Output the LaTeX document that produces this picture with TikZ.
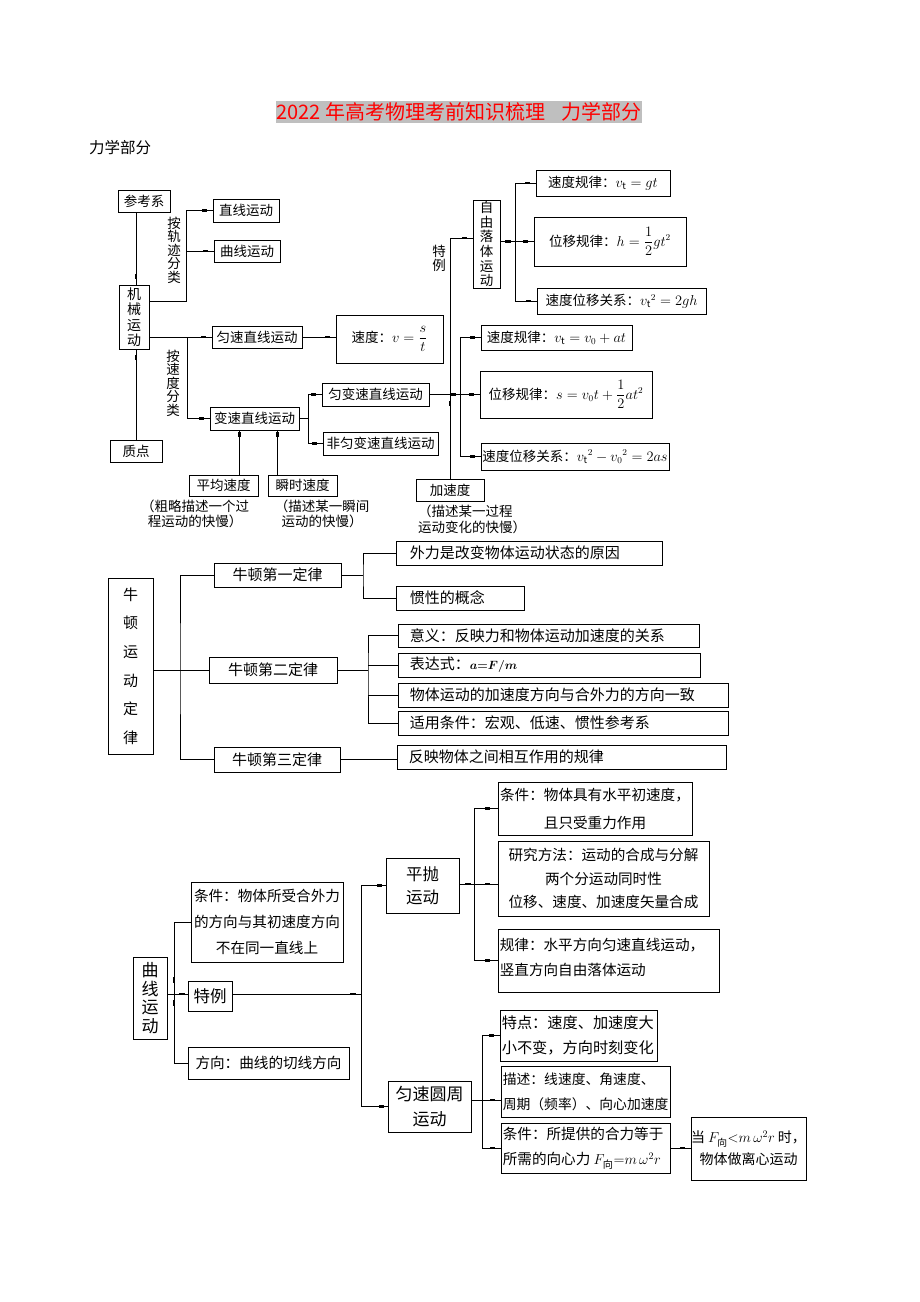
\documentclass[tikz,border=0pt]{standalone}
\usepackage{fontspec}
\usepackage{amsmath}
\setmainfont{Noto Sans CJK SC}
\usetikzlibrary{decorations.markings}
\newcommand{\fsz}[2]{\fontsize{#1}{#2}\selectfont}
\newcommand{\mkbox}[7][]{\node[box,#1,minimum width={(#5-#3)*1pt},minimum height={(#6-#4)*1pt}] (#2) at ({(#3+#5)/2},{(#4+#6)/2}) {#7};}
\begin{document}
\begin{tikzpicture}[x=1pt,y=-1pt,
 box/.style={draw=black,line width=0.75pt,inner sep=0pt,align=center},
 ln/.style={draw=black,line width=0.75pt},
 mk/.style={postaction={decorate,decoration={markings,mark=at position #1 with {\fill[black] (-2.6pt,-1.4pt) rectangle (2.6pt,1.4pt);}}}},
 mk/.default=-8pt,
 ftop/.style={font=\fsz{13.5}{16}},
 fmid/.style={font=\fsz{15}{18}},
 fbot/.style={font=\fsz{14.6}{18}},
 lbl/.style={inner sep=0pt,align=center},
 ltxt/.style={inner sep=0pt,align=left,anchor=west},
]
\fill[white] (0,0) rectangle (920,1302);
\useasboundingbox (0,0) rectangle (920,1302);

% title
\node[fill=black!25,text=red,inner xsep=1pt,inner ysep=2pt,font=\fsz{20}{22}] (title) at (459,112) {2022 年高考物理考前知识梳理\hspace{0.8em}力学部分};
\node[anchor=west,inner sep=0pt,font=\fsz{15.5}{18}] (sub) at (89,148) {力学部分};

% ---------- top section ----------
\mkbox[ftop]{ckx}{118}{190}{170}{212}{参考系}
\mkbox[ftop]{zx}{213}{199}{279}{222}{直线运动}
\mkbox[ftop]{qx}{214}{240}{280}{262}{曲线运动}
\mkbox[font=\fsz{14}{15.5}]{jx}{119}{285}{149}{349}{机\\械\\运\\动}
\mkbox[ftop]{yszx}{212}{326}{302}{348}{匀速直线运动}
\mkbox[ftop]{sdv}{336}{315}{443}{363}{速度：$v=\dfrac{s}{t}$}
\mkbox[ftop]{bszx}{210}{407}{299}{430}{变速直线运动}
\mkbox[ftop]{ybs}{322}{383}{429}{406}{匀变速直线运动}
\mkbox[ftop]{fybs}{323}{432}{438}{455}{非匀变速直线运动}
\mkbox[ftop]{zd}{110}{440}{162}{462}{质点}
\mkbox[ftop]{pjsd}{189}{475}{258}{496}{平均速度}
\mkbox[ftop]{ssd}{268}{475}{337}{496}{瞬时速度}
\mkbox[ftop]{jsd}{416}{479}{484}{501}{加速度}
\mkbox[font=\fsz{13.5}{14.7}]{zyl}{473}{200}{500}{288}{自\\由\\落\\体\\运\\动}
\mkbox[ftop]{g1}{536}{170}{670}{196}{速度规律：$v_{\mathrm t}=gt$}
\mkbox[ftop]{g2}{534}{217}{686}{266}{位移规律：$h=\dfrac{1}{2}gt^2$}
\mkbox[ftop]{g3}{537}{288}{706}{314}{速度位移关系：${v_{\mathrm t}}^2=2gh$}
\mkbox[ftop]{a1}{481}{325}{632}{350}{速度规律：$v_{\mathrm t}=v_0+at$}
\mkbox[ftop]{a2}{480}{371}{652}{418}{位移规律：$s=v_0t+\dfrac{1}{2}at^2$}
\mkbox[ftop]{a3}{481}{443}{669}{470}{速度位移关系：${v_{\mathrm t}}^2-{v_0}^2=2as$}

\node[lbl,font=\fsz{13.5}{13.5}] (lb1) at (174,250) {按\\轨\\迹\\分\\类};
\node[lbl,font=\fsz{13.5}{13.5}] (lb2) at (173,383) {按\\速\\度\\分\\类};
\node[lbl,font=\fsz{13.5}{14}] (lb3) at (439,258) {特\\例};
\node[lbl,font=\fsz{13.5}{15.5}] (cap1) at (195,514) {（粗略描述一个过\\程运动的快慢）};
\node[lbl,font=\fsz{13.5}{15.5}] (cap2) at (322,514) {（描述某一瞬间\\运动的快慢）};
\node[lbl,align=left,anchor=north west,font=\fsz{13.5}{15.5}] (cap3) at (418,505) {（描述某一过程\\运动变化的快慢）};

\draw[ln,mk] ([xshift=2pt]jx.north |- ckx.south) -- ([xshift=2pt]jx.north);
\draw[ln,mk] (zd.north) -- (zd.north |- jx.south);
\coordinate (j1) at (186,301);
\draw[ln,mk] (jx.east |- j1) -- (j1) |- (zx.west);
\draw[ln,mk] (j1 |- qx.west) -- (qx.west);
\coordinate (j2) at (187,337);
\draw[ln,mk] (jx.east |- j2) -- (yszx.west);
\draw[ln,mk] (j2) |- (bszx.west);
\draw[ln,mk] (yszx.east) -- (yszx.east -| sdv.west);
\coordinate (j3) at (308,418.5);
\draw[ln] (bszx.east) -- (j3);
\draw[ln,mk] (j3) |- (ybs.west);
\draw[ln,mk] (j3) |- (fybs.west);
\draw[ln,mk=-4pt] ([xshift=16pt]pjsd.north) -- ([xshift=16pt]pjsd.north |- bszx.south);
\draw[ln,mk=-4pt] ([xshift=-25pt]ssd.north) -- ([xshift=-25pt]ssd.north |- bszx.south);
\coordinate (j4) at (460,394.5);
\draw[ln,mk=-7pt] (ybs.east) -- (j4);
\draw[ln,mk] (j4) -- (a2.west);
\draw[ln,mk] (j4) |- (a1.west);
\draw[ln,mk] (j4) |- (a3.west);
\path (jsd.north |- ybs.east) coordinate (j5);
\draw[ln,mk=-9pt] (jsd.north) -- (j5);
\draw[ln,mk] (j5) |- ([yshift=6pt]zyl.west);
\coordinate (j6) at (515,241.5);
\draw[ln,mk=-7pt] (zyl.east |- j6) -- (j6);
\draw[ln,mk] (j6) -- (g2.west);
\draw[ln,mk] (j6) |- (g1.west);
\draw[ln,mk] (j6) |- (g3.west);

% ---------- middle section ----------
\mkbox[font=\fsz{15}{28.6}]{nd}{108}{578}{153}{754}{牛\\顿\\运\\动\\定\\律}
\mkbox[fmid]{law1}{214}{563}{341}{587}{牛顿第一定律}
\mkbox[fmid]{law2}{209}{657}{337}{683}{牛顿第二定律}
\mkbox[fmid]{law3}{214}{747}{340}{772}{牛顿第三定律}
\mkbox{w1}{396}{541}{662}{565}{}
\mkbox{w2}{396}{586}{524}{610}{}
\mkbox{e1}{398}{624}{699}{647}{}
\mkbox{e2}{398}{653}{700}{677}{}
\mkbox{e3}{398}{683}{728}{707}{}
\mkbox{e4}{398}{711}{728}{735}{}
\mkbox{w3}{397}{745}{726}{769}{}
\node[ltxt,fmid] (w1t) at ([xshift=14pt]w1.west) {外力是改变物体运动状态的原因};
\node[ltxt,fmid] (w2t) at ([xshift=14pt]w2.west) {惯性的概念};
\node[ltxt,fmid] (e1t) at ([xshift=12pt]e1.west) {意义：反映力和物体运动加速度的关系};
\node[ltxt,fmid] (e2t) at ([xshift=12pt]e2.west) {表达式：{\fsz{12}{14}$\boldsymbol{a{=}F/m}$}};
\node[ltxt,fmid] (e3t) at ([xshift=12pt]e3.west) {物体运动的加速度方向与合外力的方向一致};
\node[ltxt,fmid] (e4t) at ([xshift=12pt]e4.west) {适用条件：宏观、低速、惯性参考系};
\node[ltxt,fmid] (w3t) at ([xshift=12pt]w3.west) {反映物体之间相互作用的规律};

\coordinate (k1) at (180,670);
\draw[ln] (nd.east |- k1) -- (law2.west);
\draw[ln] (law1.west) -| (k1) |- (law3.west);
\coordinate (k2) at (363,575);
\draw[ln] (law1.east) -- (k2);
\draw[ln] (w1.west) -| (k2) |- (w2.west);
\coordinate (k3) at (368,670);
\draw[ln] (law2.east) -- (k3);
\draw[ln] (e1.west) -| (k3) |- (e4.west);
\draw[ln] (k3 |- e2.west) -- (e2.west);
\draw[ln] (k3 |- e3.west) -- (e3.west);
\draw[ln] (law3.east) -- (law3.east -| w3.west);

% ---------- bottom section ----------
\mkbox[font=\fsz{17}{18.5}]{qxyd}{133}{957}{167}{1039}{曲\\线\\运\\动}
\mkbox[font=\fsz{14.6}{26}]{tj}{191}{882}{343}{962}{条件：物体所受合外力\\的方向与其初速度方向\\不在同一直线上}
\mkbox[font=\fsz{16.5}{18}]{tl}{188}{981}{232}{1011}{特例}
\mkbox[fbot]{fx}{188}{1047}{349}{1079}{方向：曲线的切线方向}
\mkbox[font=\fsz{16.5}{23}]{pp}{386}{858}{459}{913}{平抛\\运动}
\mkbox[font=\fsz{14.6}{28}]{pp1}{498}{782}{692}{835}{条件：物体具有水平初速度，\\且只受重力作用}
\mkbox[font=\fsz{14.6}{23.5}]{pp2}{498}{841}{709}{916}{研究方法：运动的合成与分解\\两个分运动同时性\\位移、速度、加速度矢量合成}
\mkbox{pp3}{498}{929}{719}{992}{}
\node[ltxt,font=\fsz{14.6}{25}] (pp3t) at ([xshift=2pt,yshift=3pt]pp3.west) {规律：水平方向匀速直线运动，\\竖直方向自由落体运动};
\mkbox[font=\fsz{17}{25}]{yszy}{388}{1081}{471}{1132}{匀速圆周\\运动}
\mkbox{yz1}{500}{1010}{657}{1061}{}
\mkbox{yz2}{501}{1066}{670}{1117}{}
\mkbox{yz3}{501}{1123}{670}{1173}{}
\node[ltxt,font=\fsz{15.2}{25}] (yz1t) at ([xshift=2pt]yz1.west) {特点：速度、加速度大\\小不变，方向时刻变化};
\node[ltxt,font=\fsz{13.8}{25}] (yz2t) at ([xshift=2pt]yz2.west) {描述：线速度、角速度、\\周期（频率）、向心加速度};
\node[ltxt,font=\fsz{14.6}{25}] (yz3t) at ([xshift=2pt]yz3.west) {条件：所提供的合力等于\\所需的向心力 $F_{\text{向}}{=}m\,\omega^2r$};
\mkbox[font=\fsz{14}{22}]{lx}{692}{1117}{805}{1180}{当 $F_{\text{向}}{<}m\,\omega^2r$ 时，\\物体做离心运动}

\coordinate (c1) at (174,994);
\draw[ln] (qxyd.east |- c1) -- (c1);
\draw[ln,mk=14pt] (c1) |- (tj.west);
\draw[ln,mk=9pt] (c1) |- (fx.west);
\draw[ln,mk=8pt] (c1) -- (c1 -| tl.west);
\coordinate (c2) at (361,994);
\draw[ln,mk] (tl.east |- c2) -- (c2);
\draw[ln,mk=-6pt] (c2) |- (pp.west);
\draw[ln,mk=-6pt] (c2) |- (yszy.west);
\coordinate (c3) at (474,884);
\draw[ln,mk=-6pt] (pp.east |- c3) -- (c3);
\draw[ln,mk=-10pt] (c3) -- (c3 -| pp2.west);
\draw[ln,mk=-10pt] (c3) |- (pp1.west);
\draw[ln,mk=-10pt] (c3) |- (pp3.west);
\coordinate (c4) at (482,1100);
\draw[ln] (yszy.east |- c4) -- (c4);
\draw[ln,mk] (c4) -- (c4 -| yz2.west);
\draw[ln,mk] (c4) |- (yz1.west);
\draw[ln,mk] (c4) |- (yz3.west);
\draw[ln,mk] (yz3.east) -- (yz3.east -| lx.west);
\end{tikzpicture}
\end{document}
